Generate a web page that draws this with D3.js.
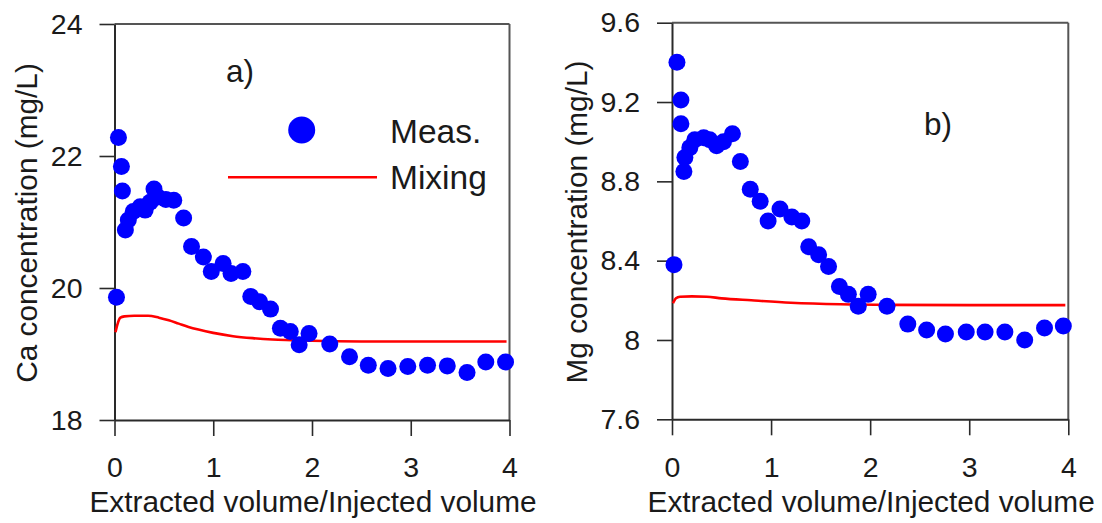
<!DOCTYPE html>
<html><head><meta charset="utf-8">
<script src="https://cdn.jsdelivr.net/npm/d3@7"></script>
<style>
body{margin:0;background:#fff}
text{font-family:"Liberation Sans",Arial,sans-serif;fill:#1a1a1a}
</style>
</head><body>
<svg id="c" width="1102" height="523"></svg>
<script>
// ---- data ----
const xTicks = [0, 1, 2, 3, 4];
const xTickLabels = ["0", "1", "2", "3", "4"];
const xTitle = "Extracted volume/Injected volume";

const caTicks = [18, 20, 22, 24];
const caTickLabels = ["18", "20", "22", "24"];
const caTitle = "Ca concentration (mg/L)";
const caMeasX = [0.02,0.04,0.07,0.08,0.11,0.14,0.19,0.26,0.31,0.36,0.40,0.44,0.52,0.60,0.70,0.78,0.90,0.98,1.10,1.18,1.30,1.38,1.47,1.58,1.68,1.78,1.87,1.97,2.18,2.38,2.57,2.77,2.97,3.17,3.37,3.57,3.76,3.96];
const caMeasY = [19.86,22.28,21.84,21.47,20.88,21.03,21.16,21.23,21.18,21.30,21.50,21.38,21.34,21.33,21.06,20.63,20.47,20.25,20.37,20.22,20.25,19.87,19.79,19.68,19.39,19.34,19.14,19.31,19.15,18.96,18.83,18.78,18.81,18.83,18.82,18.72,18.88,18.88];
const caMixX = [0.01,0.03,0.06,0.10,0.20,0.34,0.45,0.55,0.65,0.75,0.85,1.0,1.2,1.4,1.6,1.8,2.0,2.5,3.0,3.5,3.97];
const caMixY = [19.33,19.45,19.55,19.57,19.58,19.58,19.55,19.51,19.46,19.41,19.37,19.32,19.27,19.24,19.22,19.21,19.20,19.19,19.19,19.19,19.19];

const mgTicks = [7.6, 8, 8.4, 8.8, 9.2, 9.6];
const mgTickLabels = ["7.6", "8", "8.4", "8.8", "9.2", "9.6"];
const mgTitle = "Mg concentration (mg/L)";
const mgMeasX = [0.02,0.05,0.09,0.09,0.12,0.13,0.18,0.23,0.32,0.38,0.45,0.52,0.61,0.69,0.79,0.89,0.97,1.09,1.21,1.31,1.38,1.48,1.58,1.69,1.78,1.88,1.98,2.17,2.38,2.57,2.76,2.97,3.16,3.36,3.56,3.76,3.95];
const mgMeasY = [8.38,9.40,9.21,9.09,8.85,8.92,8.97,9.01,9.02,9.01,8.98,9.00,9.04,8.90,8.76,8.70,8.60,8.66,8.62,8.60,8.47,8.43,8.37,8.27,8.23,8.17,8.23,8.17,8.08,8.05,8.03,8.04,8.04,8.04,8.00,8.06,8.07];
const mgMixX = [0.01,0.04,0.08,0.20,0.35,0.50,0.80,1.2,1.7,2.2,3.0,3.97];
const mgMixY = [8.185,8.21,8.218,8.22,8.218,8.21,8.20,8.188,8.18,8.177,8.176,8.176];

const legendLabels = ["Meas.", "Mixing"];
const panelLabels = ["a)", "b)"];

// ---- drawing ----
const svg = d3.select("#c");
const BLUE = "#0000ff", RED = "#ff0000", AX = "#2a2a2a";

function panel(cfg) {
  const x = d3.scaleLinear().domain([0, 4]).range([cfg.x0, cfg.x1]);
  const y = d3.scaleLinear().domain([cfg.yTicks[0], cfg.yTicks[cfg.yTicks.length - 1]]).range([cfg.yB, cfg.yT]);
  const g = svg.append("g");

  // top & right borders
  g.append("line").attr("x1", x(0)).attr("x2", x(4)).attr("y1", y.range()[1]).attr("y2", y.range()[1])
    .attr("stroke", "#555").attr("stroke-width", 2);
  g.append("line").attr("x1", x(4)).attr("x2", x(4)).attr("y1", y.range()[1]).attr("y2", y.range()[0])
    .attr("stroke", "#555").attr("stroke-width", 2);

  const ya = g.append("g").attr("transform", `translate(${x(0)},0)`)
    .call(d3.axisLeft(y).tickValues(cfg.yTicks).tickFormat((d, i) => cfg.yLabels[i]).tickSize(15).tickSizeOuter(0).tickPadding(17));
  const xa = g.append("g").attr("transform", `translate(0,${y.range()[0]})`)
    .call(d3.axisBottom(x).tickValues(xTicks).tickFormat((d, i) => xTickLabels[i]).tickSize(16).tickSizeOuter(0).tickPadding(21));
  [ya, xa].forEach(a => {
    a.select(".domain").attr("stroke", AX).attr("stroke-width", 2);
    a.selectAll(".tick line").attr("stroke", AX).attr("stroke-width", 1.6);
    a.selectAll(".tick text").style("font-family", '"Liberation Sans",Arial,sans-serif').style("font-size", "28.5px").attr("fill", "#1a1a1a");
  });

  // mixing line
  const line = d3.line().x(d => x(d[0])).y(d => y(d[1])).curve(d3.curveMonotoneX);
  g.append("path").datum(cfg.mixX.map((v, i) => [v, cfg.mixY[i]]))
    .attr("d", line).attr("fill", "none").attr("stroke", RED).attr("stroke-width", 2.6);

  // measured points
  g.selectAll("circle.m").data(cfg.measX.map((v, i) => [v, cfg.measY[i]])).enter()
    .append("circle").attr("class", "m").attr("cx", d => x(d[0])).attr("cy", d => y(d[1])).attr("r", 8.5).attr("fill", BLUE);

  // axis titles
  g.append("text").attr("x", (cfg.x0 + cfg.x1) / 2 + 1).attr("y", 512).attr("text-anchor", "middle")
    .style("font-size", "29.8px").text(xTitle);
  g.append("text").attr("transform", `translate(${cfg.yTitleX},${(cfg.yT + cfg.yB) / 2 + 1}) rotate(-90)`)
    .attr("text-anchor", "middle").style("font-size", "29.8px").text(cfg.yTitle);

  // panel label
  g.append("text").attr("x", cfg.labX).attr("y", cfg.labY).style("font-size", "31.5px").text(cfg.label);
  return { x, y, g };
}

panel({ x0: 114.5, x1: 509.5, yT: 24, yB: 420, yTicks: caTicks, yLabels: caTickLabels,
  measX: caMeasX, measY: caMeasY, mixX: caMixX, mixY: caMixY, yTitle: caTitle, yTitleX: 37,
  label: panelLabels[0], labX: 226, labY: 82 });
panel({ x0: 672, x1: 1068.3, yT: 22.7, yB: 419.3, yTicks: mgTicks, yLabels: mgTickLabels,
  measX: mgMeasX, measY: mgMeasY, mixX: mgMixX, mixY: mgMixY, yTitle: mgTitle, yTitleX: 587,
  label: panelLabels[1], labX: 924, labY: 135 });

// legend (panel a)
const lg = svg.append("g");
lg.append("circle").attr("cx", 301.7).attr("cy", 130).attr("r", 13.5).attr("fill", BLUE);
lg.append("line").attr("x1", 228).attr("x2", 377).attr("y1", 177.3).attr("y2", 177.3).attr("stroke", RED).attr("stroke-width", 2.6);
lg.append("text").attr("x", 390).attr("y", 143).style("font-size", "33.5px").text(legendLabels[0]);
lg.append("text").attr("x", 390).attr("y", 189).style("font-size", "33.5px").text(legendLabels[1]);
</script>
</body></html>
